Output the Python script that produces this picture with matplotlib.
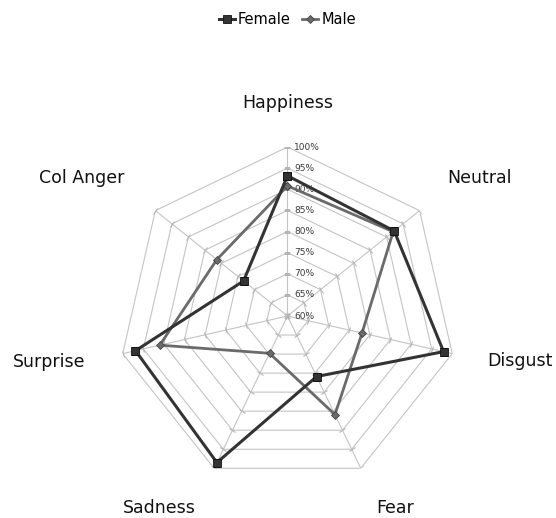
import numpy as np
import matplotlib
matplotlib.use('Agg')
import matplotlib.pyplot as plt
from matplotlib.markers import MarkerStyle
from matplotlib.transforms import Affine2D

#数据
categories=['Happiness','Neutral','Disgust','Fear','Sadness','Surprise','Col Anger']
female=[93.2,92.3,97.9,75.9,98.5,96.9,73.3]
male=[90.8,92.0,78.1,85.9,69.8,91.0,81.4]
levels=[60,65,70,75,80,85,90,95,100]
level_labels=['60%','65%','70%','75%','80%','85%','90%','95%','100%']

#标签位置(角度,半径)
label_pos=[(0,110.4),(54.3,116.0),(100.9,116.0),(150.6,112.1),(213.8,114.7),(259.1,117.4),(303.8,118.7)]

plt.rcParams['font.family']=['DejaVu Sans']

fig=plt.figure(figsize=(5.56,5.18),dpi=100)
ax=fig.add_axes([0.2131,0.0637,0.6079,0.6525],projection='polar')
ax.set_theta_zero_location('N')
ax.set_theta_direction(-1)
ax.set_ylim(60,100)
ax.grid(False)
ax.spines['polar'].set_visible(False)
ax.set_xticks([])
ax.set_yticks([])
ax.patch.set_visible(False)

n=len(categories)
angles=np.linspace(0,2*np.pi,n,endpoint=False)
closed=np.concatenate([angles,angles[:1]])

grid_c='#c4c4c4'
#网格(七边形)
for lv in levels[1:]:
	ax.plot(closed,[lv]*(n+1),color=grid_c,lw=0.8,zorder=1)
for i,a in enumerate(angles):
	ax.plot([a,a],[60,100],color=grid_c,lw=0.8,zorder=1)
	m=MarkerStyle('_',transform=Affine2D().rotate_deg(-np.degrees(a)))
	ax.plot([a]*len(levels),levels,ls='none',marker=m,markersize=5,
		markeredgecolor='#b4b4b4',markeredgewidth=0.8,zorder=1)

#刻度标签
for lv,t in zip(levels,level_labels):
	ax.annotate(t,xy=(0,lv),xytext=(5,0),textcoords='offset points',
		ha='left',va='center',fontsize=6.5,color='#3a3a3a',zorder=2)

#数据线
ax.plot(closed,male+male[:1],color='#6a6a6a',lw=2,marker='D',markersize=4.5,
	markerfacecolor='#6a6a6a',markeredgecolor='#444444',markeredgewidth=0.6,label='Male',zorder=3)
ax.plot(closed,female+female[:1],color='#333333',lw=2.2,marker='s',markersize=6,
	markerfacecolor='#333333',markeredgecolor='#111111',markeredgewidth=0.6,label='Female',zorder=4)

#类别标签
for name,(deg,r) in zip(categories,label_pos):
	ax.text(np.radians(deg),r,name,ha='center',va='center',fontsize=12.5,color='#111111')

h,l=ax.get_legend_handles_labels()
fig.legend(h[::-1],l[::-1],loc='center',bbox_to_anchor=(0.517,0.963),ncol=2,frameon=False,
	fontsize=10.5,handlelength=1.1,handletextpad=0.2,columnspacing=0.8)

fig.savefig('out.png',dpi=100)
